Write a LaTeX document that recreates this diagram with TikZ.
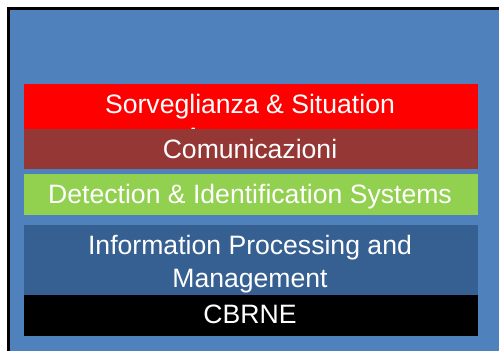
\documentclass[tikz,border=0pt]{standalone}
\usepackage{fontspec}
\setmainfont{Liberation Sans}
\definecolor{bgblue}{HTML}{4F81BD}
\definecolor{layred}{HTML}{FF0000}
\definecolor{laybrown}{HTML}{953735}
\definecolor{laygreen}{HTML}{92D050}
\definecolor{laydblue}{HTML}{366092}
\tikzset{
  lab/.style={anchor=base, inner sep=0pt, text=white, font=\fontsize{26.6}{33}\selectfont}
}
\begin{document}
\begin{tikzpicture}[x=1pt,y=-1pt]
\useasboundingbox (0,0) rectangle (499,351);
\fill[bgblue] (8.5,8.5) rectangle (505,360);
\draw[line width=3pt] (505,8.5) -- (8.5,8.5) -- (8.5,360);
% Layers
\fill[layred] (24,84) rectangle (478,129);
\node[lab] (sorv) at (250,113) {Sorveglianza \& Situation};
\begin{scope}
\clip (24,84) rectangle (478,129);
\node[lab] (aware) at (250,146) {Awareness};
\end{scope}
\fill[laybrown] (24,129) rectangle (478,169);
\node[lab] (comm) at (250,158) {Comunicazioni};
\fill[laygreen] (24,174) rectangle (478,215);
\node[lab] (det) at (250,203) {Detection \& Identification Systems};
\fill[laydblue] (24,225) rectangle (478,295);
\node[lab] (info1) at (250,254.3) {Information Processing and};
\node[lab] (info2) at (250,287.7) {Management};
\fill[black] (24,295) rectangle (478,336);
\node[lab] (cbrne) at (250,323.3) {CBRNE};
\end{tikzpicture}
\end{document}
